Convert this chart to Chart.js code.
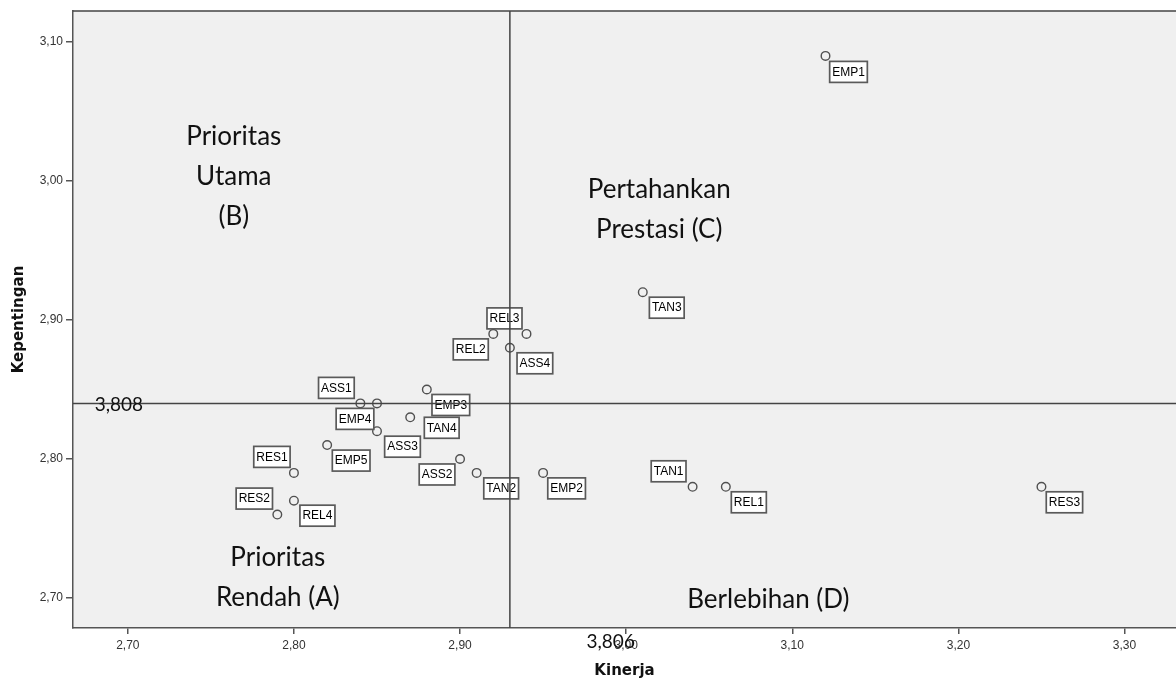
<!DOCTYPE html>
<html>
<head>
<meta charset="utf-8">
<script src="https://cdn.jsdelivr.net/npm/chart.js@4/dist/chart.umd.min.js"></script>
<style>
  html, body { margin: 0; padding: 0; background: #fff; }
  #wrap { width: 1176px; height: 682px; }
</style>
</head>
<body>
<div id="wrap"><canvas id="chart"></canvas></div>
<script>
// Indicator codes with their Kinerja (x) and Kepentingan (y) scores
const codes = ['EMP1', 'TAN3', 'TAN1', 'REL1', 'RES3', 'REL3', 'REL2', 'ASS4', 'ASS1', 'EMP4',
  'EMP3', 'TAN4', 'ASS3', 'EMP5', 'RES1', 'REL4', 'RES2', 'ASS2', 'TAN2', 'EMP2'];
const kinerja = [3.12, 3.01, 3.04, 3.06, 3.25, 2.94, 2.92, 2.93, 2.84, 2.85,
  2.88, 2.87, 2.85, 2.82, 2.80, 2.80, 2.79, 2.90, 2.91, 2.95];
const kepentingan = [3.09, 2.92, 2.78, 2.78, 2.78, 2.89, 2.89, 2.88, 2.84, 2.84,
  2.85, 2.83, 2.82, 2.81, 2.79, 2.77, 2.76, 2.80, 2.79, 2.79];

// Reference (mean) lines and the numbers printed beside them
const meanKinerja = 2.93;
const meanKepentingan = 2.84;
const meanKinerjaText = '3,806';
const meanKepentinganText = '3,808';

// Axis ticks
const xTicks = [2.70, 2.80, 2.90, 3.00, 3.10, 3.20, 3.30];
const xTickLabels = ['2,70', '2,80', '2,90', '3,00', '3,10', '3,20', '3,30'];
const yTicks = [2.70, 2.80, 2.90, 3.00, 3.10];
const yTickLabels = ['2,70', '2,80', '2,90', '3,00', '3,10'];

// Quadrant captions
const quadrantTexts = [['Prioritas', 'Utama', '(B)'], ['Pertahankan', 'Prestasi (C)'], ['Prioritas', 'Rendah (A)'], ['Berlebihan (D)']];

// Placement of captions (data coords of first baseline) and point label offsets (px)
const quadrantAnchors = [[2.7638, 3.0259], [3.0199, 2.9878], [2.7903, 2.7230], [3.0856, 2.6928]];
const labelOffsets = [[23, 16], [24, 15.5], [-24, -15.5], [23, 15.5], [23, 15.5], [-22, -15.5], [-22.5, 15.5],
  [25, 15.5], [-24, -15.5], [-22, 15.5], [24, 15.5], [31.5, 10.5], [25.5, 15.5], [24, 15.5], [-22, -16],
  [23.5, 15], [-23, -16], [-23, 15.5], [24.5, 15.5], [23.5, 15.5]];

const AXIS = '#555555';
const TICK_FONT = { family: 'Liberation Sans', size: 12 };
const TITLE_FONT = { family: 'DejaVu Sans', size: 15, weight: 'bold' };

const quadrantPlugin = {
  id: 'quadrant',
  beforeDraw(chart) {
    const { ctx, chartArea: a } = chart;
    ctx.save();
    ctx.fillStyle = '#f0f0f0';
    ctx.fillRect(a.left, a.top, a.right - a.left, a.bottom - a.top);
    ctx.restore();
  },
  afterDatasetsDraw(chart) {
    const { ctx, chartArea: a, scales: { x, y } } = chart;
    ctx.save();

    // Point labels in white boxes
    ctx.font = '12px "Liberation Sans"';
    ctx.textAlign = 'center';
    ctx.textBaseline = 'middle';
    codes.forEach((code, i) => {
      const cx = x.getPixelForValue(kinerja[i]) + labelOffsets[i][0];
      const cy = y.getPixelForValue(kepentingan[i]) + labelOffsets[i][1];
      const w = ctx.measureText(code).width + 5;
      const h = 21;
      ctx.fillStyle = '#ffffff';
      ctx.fillRect(cx - w / 2, cy - h / 2, w, h);
      ctx.strokeStyle = '#5a5a5a';
      ctx.lineWidth = 1.7;
      ctx.strokeRect(cx - w / 2, cy - h / 2, w, h);
      ctx.fillStyle = '#000000';
      ctx.fillText(code, cx, cy + 0.5);
    });

    // Top frame and reference lines
    ctx.strokeStyle = '#444444';
    ctx.lineWidth = 1.5;
    ctx.beginPath();
    ctx.moveTo(a.left, a.top);
    ctx.lineTo(a.right, a.top);
    const mx = x.getPixelForValue(meanKinerja);
    const my = y.getPixelForValue(meanKepentingan);
    ctx.moveTo(mx, a.top);
    ctx.lineTo(mx, a.bottom);
    ctx.moveTo(a.left, my);
    ctx.lineTo(a.right, my);
    ctx.stroke();

    // Quadrant captions
    ctx.fillStyle = '#111111';
    ctx.font = '26px Lato';
    ctx.textBaseline = 'alphabetic';
    quadrantTexts.forEach((lines, q) => {
      const px = x.getPixelForValue(quadrantAnchors[q][0]);
      const py = y.getPixelForValue(quadrantAnchors[q][1]);
      lines.forEach((line, k) => ctx.fillText(line, px, py + k * 40));
    });

    // Mean values
    ctx.font = '19px Lato';
    ctx.textBaseline = 'middle';
    ctx.fillText(meanKepentinganText, x.getPixelForValue(2.6946), my + 1);
    ctx.fillText(meanKinerjaText, x.getPixelForValue(2.9907), y.getPixelForValue(2.6683));
    ctx.restore();
  }
};

new Chart(document.getElementById('chart'), {
  type: 'scatter',
  data: {
    datasets: [{
      data: codes.map((c, i) => ({ x: kinerja[i], y: kepentingan[i] })),
      pointRadius: 4.3,
      pointBorderWidth: 1.4,
      pointBorderColor: '#505050',
      pointBackgroundColor: 'rgba(0,0,0,0)',
      pointHoverRadius: 4.3
    }]
  },
  options: {
    responsive: true,
    maintainAspectRatio: false,
    animation: false,
    layout: { autoPadding: false, padding: { top: 11, left: 0, right: 0, bottom: 0 } },
    plugins: { legend: { display: false }, tooltip: { enabled: false } },
    scales: {
      x: {
        type: 'linear',
        min: 2.667,
        max: 3.331,
        afterBuildTicks: (s) => { s.ticks = xTicks.map(v => ({ value: v })); },
        afterFit: (s) => { s.height = 54; s.paddingLeft = 0; s.paddingRight = 0; },
        ticks: {
          callback: (v, i) => xTickLabels[i],
          font: TICK_FONT, color: '#333333', padding: 4, maxRotation: 0, autoSkip: false
        },
        grid: { drawOnChartArea: false, drawTicks: true, tickLength: 6, color: AXIS, lineWidth: 1.5 },
        border: { color: AXIS, width: 1.5 },
        title: { display: true, text: 'Kinerja', font: TITLE_FONT, color: '#111111', padding: { top: 0, bottom: 2 } }
      },
      y: {
        type: 'linear',
        min: 2.6784,
        max: 3.1223,
        afterBuildTicks: (s) => { s.ticks = yTicks.map(v => ({ value: v })); },
        afterFit: (s) => { s.width = 73; s.paddingTop = 0; s.paddingBottom = 0; },
        ticks: {
          callback: (v, i) => yTickLabels[i],
          font: TICK_FONT, color: '#333333', padding: 3, autoSkip: false
        },
        grid: { drawOnChartArea: false, drawTicks: true, tickLength: 7, color: AXIS, lineWidth: 1.5 },
        border: { color: AXIS, width: 1.5 },
        title: { display: true, text: 'Kepentingan', font: TITLE_FONT, color: '#111111', padding: { top: 10, bottom: 0 } }
      }
    }
  },
  plugins: [quadrantPlugin]
});
</script>
</body>
</html>
